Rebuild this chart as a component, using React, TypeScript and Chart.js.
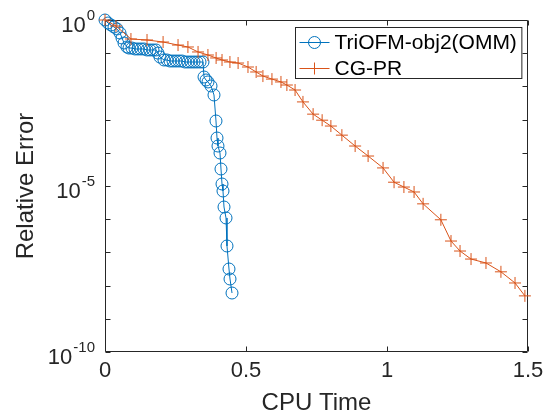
import React, { useEffect, useRef } from 'react';
import { Chart, registerables } from 'chart.js';

Chart.register(...registerables);

// ---- Data ----
const seriesNames = ['TriOFM-obj2(OMM)', 'CG-PR'];

const triofmTime = [
  0, 0.0106, 0.0213, 0.0319, 0.0426, 0.0532, 0.0603, 0.0674, 0.078,
  0.0851, 0.0957, 0.1064, 0.117, 0.1277, 0.1383, 0.1489, 0.1596, 0.1702, 0.1809,
  0.1879, 0.195,
  0.2092, 0.2199, 0.2305, 0.2411, 0.2518, 0.2624, 0.273, 0.2837, 0.2943, 0.305, 0.3156, 0.3262, 0.3369, 0.3475,
  0.3511, 0.3582, 0.3652, 0.3759, 0.3865, 0.3936, 0.3972, 0.4007, 0.4078, 0.4113, 0.4149, 0.4184, 0.422, 0.4291,
  0.4326, 0.4397, 0.4433, 0.4504,
];
const triofmError = [
  1, 0.812, 0.707, 0.615, 0.536, 0.406, 0.287, 0.203, 0.154,
  0.143, 0.143, 0.134, 0.134, 0.134, 0.134, 0.125, 0.125, 0.125, 0.125,
  0.101, 0.0768,
  0.0624, 0.0624, 0.0582, 0.0582, 0.0582, 0.0582, 0.0582, 0.0543, 0.0543, 0.0543, 0.0543, 0.0543, 0.0543, 0.0543,
  0.0192, 0.0156, 0.0136, 0.0103, 0.00551, 9.08e-4, 2.79e-4, 1.6e-4, 9.86e-5, 3.25e-5, 1.15e-5, 7.07e-6, 2.33e-6, 1.09e-6,
  1.56e-7, 3.16e-8, 1.58e-8, 5.98e-9,
];

const cgprTime = [
  0, 0.039, 0.092, 0.149, 0.206, 0.259, 0.294, 0.33, 0.365, 0.394, 0.415, 0.443, 0.472,
  0.507, 0.536, 0.56, 0.592, 0.624, 0.645, 0.674, 0.702, 0.738, 0.77, 0.801, 0.84,
  0.887, 0.933, 0.986, 1.025, 1.06, 1.096, 1.128, 1.191, 1.227, 1.259, 1.298, 1.351,
  1.404, 1.454, 1.489,
];
const cgprError = [
  1, 0.659, 0.268, 0.25, 0.217, 0.176, 0.154, 0.109, 0.0883, 0.0718, 0.0624, 0.0543, 0.0506,
  0.0384, 0.0272, 0.0205, 0.0166, 0.0136, 0.011, 0.00778, 0.00341, 0.00146, 9.6e-4, 6.4e-4, 3.4e-4,
  1.6e-4, 8.0e-5, 3.5e-5, 1.3e-5, 9.3e-6, 6.6e-6, 2.9e-6, 9.6e-7, 2.2e-7, 1.1e-7, 6.3e-8, 4.8e-8,
  2.6e-8, 1.2e-8, 4.9e-9,
];

const xTickValues = [0, 0.5, 1, 1.5];
const yDecadeExponents = [0, -1, -2, -3, -4, -5, -6, -7, -8, -9, -10];
const yLabeledExponents = [0, -5, -10];

const xTitle = 'CPU Time';
const yTitle = 'Relative Error';

// ---- Styles ----
const BLUE = '#0072BD';
const ORANGE = '#D95319';
const AXIS = '#262626';
const FONT = "'Liberation Sans', Arial, Helvetica, sans-serif";

const framePlugin = {
  id: 'matlabFrame',
  beforeDatasetsDraw(chart: any) {
    const { ctx, chartArea, scales } = chart;
    const { left, right, top, bottom } = chartArea;
    const L = Math.round(left) + 0.5;
    const R = Math.round(right) - 0.5;
    const T = Math.round(top) + 0.5;
    const B = Math.round(bottom) - 0.5;
    const len = 5;
    ctx.save();
    ctx.strokeStyle = AXIS;
    ctx.lineWidth = 1;
    ctx.beginPath();
    ctx.rect(L, T, R - L, B - T);
    for (const v of xTickValues) {
      const px = Math.round(scales.x.getPixelForValue(v)) + 0.5;
      ctx.moveTo(px, B);
      ctx.lineTo(px, B - len);
      ctx.moveTo(px, T);
      ctx.lineTo(px, T + len);
    }
    for (const e of yDecadeExponents) {
      const py = Math.round(scales.y.getPixelForValue(Math.pow(10, e))) + 0.5;
      ctx.moveTo(L, py);
      ctx.lineTo(L + len, py);
      ctx.moveTo(R, py);
      ctx.lineTo(R - len, py);
    }
    ctx.stroke();

    // y tick labels as base + raised exponent (MATLAB style)
    ctx.fillStyle = AXIS;
    ctx.textBaseline = 'alphabetic';
    ctx.textAlign = 'left';
    for (const e of yLabeledExponents) {
      const py = scales.y.getPixelForValue(Math.pow(10, e));
      const base = '10';
      const expo = String(e);
      ctx.font = `15px ${FONT}`;
      const wExp = ctx.measureText(expo).width;
      ctx.font = `22px ${FONT}`;
      const wBase = ctx.measureText(base).width;
      const xRight = left - 10;
      const xBase = xRight - wExp - wBase - 1;
      const baseline = py + 11.5;
      ctx.fillText(base, xBase, baseline);
      ctx.font = `15px ${FONT}`;
      ctx.fillText(expo, xBase + wBase + 1, baseline - 11.5);
    }
    ctx.restore();
  },
};

const legendPlugin = {
  id: 'matlabLegend',
  afterDatasetsDraw(chart: any) {
    const { ctx, chartArea } = chart;
    const ds = chart.data.datasets;
    ctx.save();
    ctx.font = `21px ${FONT}`;
    const textW = Math.max(...ds.map((d: any) => ctx.measureText(d.label).width));
    const padL = 4, lineLen = 30, gap = 5, padR = 5, rowH = 26, padT = 15;
    const boxW = padL + lineLen + gap + textW + padR;
    const boxH = padT * 2 + rowH * (ds.length - 1) - 5;
    const bx = Math.round(chartArea.right - 7 - boxW) + 0.5;
    const by = Math.round(chartArea.top + 7) + 0.5;
    ctx.fillStyle = '#ffffff';
    ctx.fillRect(bx, by, boxW, boxH);
    ctx.strokeStyle = AXIS;
    ctx.lineWidth = 1;
    ctx.strokeRect(bx, by, boxW, boxH);
    ds.forEach((d: any, i: number) => {
      const cy = by + padT + i * rowH;
      const x0 = bx + padL;
      const x1 = x0 + lineLen;
      const cx = (x0 + x1) / 2;
      ctx.strokeStyle = d.borderColor;
      ctx.lineWidth = 1;
      ctx.beginPath();
      ctx.moveTo(x0, cy);
      ctx.lineTo(x1, cy);
      ctx.stroke();
      ctx.beginPath();
      if (d.pointStyle === 'circle') {
        ctx.arc(cx, cy, d.pointRadius, 0, Math.PI * 2);
      } else {
        const r = d.pointRadius;
        ctx.moveTo(cx - r, cy);
        ctx.lineTo(cx + r, cy);
        ctx.moveTo(cx, cy - r);
        ctx.lineTo(cx, cy + r);
      }
      ctx.stroke();
      ctx.fillStyle = '#000000';
      ctx.textBaseline = 'middle';
      ctx.textAlign = 'left';
      ctx.fillText(d.label, x1 + gap, cy + 1);
    });
    ctx.restore();
  },
};

export default function App() {
  const canvasRef = useRef<HTMLCanvasElement | null>(null);

  useEffect(() => {
    if (!canvasRef.current) return;
    const chart = new Chart(canvasRef.current, {
      type: 'scatter',
      data: {
        datasets: [
          {
            label: seriesNames[0],
            data: triofmTime.map((x, i) => ({ x, y: triofmError[i] })),
            showLine: true,
            borderColor: BLUE,
            backgroundColor: 'rgba(0,0,0,0)',
            borderWidth: 1,
            pointStyle: 'circle',
            pointRadius: 6,
            pointBorderWidth: 1,
            pointBorderColor: BLUE,
            pointBackgroundColor: 'rgba(0,0,0,0)',
            clip: false,
            order: 1,
          } as any,
          {
            label: seriesNames[1],
            data: cgprTime.map((x, i) => ({ x, y: cgprError[i] })),
            showLine: true,
            borderColor: ORANGE,
            backgroundColor: 'rgba(0,0,0,0)',
            borderWidth: 1,
            pointStyle: 'cross',
            pointRadius: 6,
            pointBorderWidth: 1,
            pointBorderColor: ORANGE,
            pointBackgroundColor: ORANGE,
            clip: false,
            order: 0,
          } as any,
        ],
      },
      options: {
        animation: false,
        responsive: false,
        devicePixelRatio: 1,
        layout: { padding: { left: 0, right: 22, top: 20, bottom: 0 } },
        plugins: { legend: { display: false }, tooltip: { enabled: false } },
        font: { family: FONT } as any,
        scales: {
          x: {
            type: 'linear',
            min: 0,
            max: 1.5,
            afterBuildTicks: (s: any) => {
              s.ticks = xTickValues.map((v) => ({ value: v }));
            },
            afterFit: (s: any) => {
              s.height = 68;
            },
            ticks: {
              autoSkip: false,
              maxRotation: 0,
              padding: 6,
              color: AXIS,
              font: { family: FONT, size: 22 },
              callback: (v: any) => String(v),
            },
            grid: { display: false, drawTicks: false, tickLength: 0 },
            border: { display: false },
            title: {
              display: true,
              text: xTitle,
              color: AXIS,
              font: { family: FONT, size: 24 },
              padding: { top: 0, bottom: 2 },
            },
          },
          y: {
            type: 'logarithmic',
            min: 1e-10,
            max: 1,
            afterBuildTicks: (s: any) => {
              s.ticks = yDecadeExponents.map((e) => ({ value: Math.pow(10, e) }));
            },
            afterFit: (s: any) => {
              s.width = 105;
            },
            ticks: {
              display: false,
              autoSkip: false,
            },
            grid: { display: false, drawTicks: false, tickLength: 0 },
            border: { display: false },
            title: {
              display: true,
              text: yTitle,
              color: AXIS,
              font: { family: FONT, size: 24 },
              padding: { top: 12, bottom: 0 },
            },
          },
        },
      } as any,
      plugins: [framePlugin, legendPlugin],
    });
    return () => chart.destroy();
  }, []);

  return (
    <div style={{ position: 'fixed', left: 0, top: 0, width: 550, height: 420, background: '#ffffff' }}>
      <canvas ref={canvasRef} width={550} height={420} style={{ display: 'block' }} />
    </div>
  );
}
